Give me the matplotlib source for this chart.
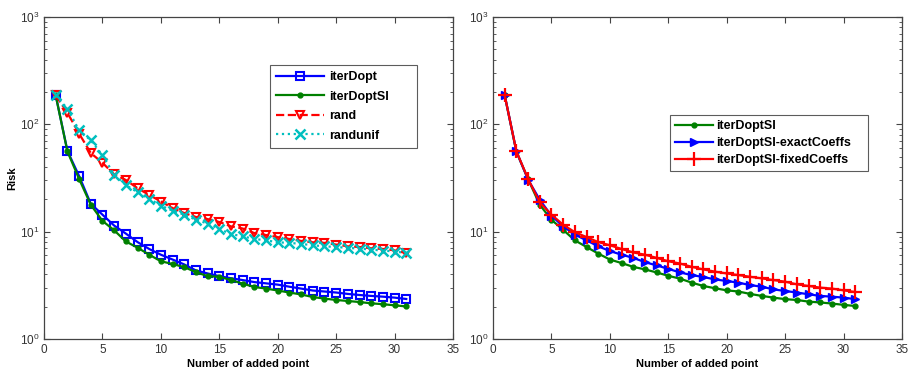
import numpy as np
import matplotlib
matplotlib.use('Agg')
import matplotlib.pyplot as plt
from matplotlib.ticker import LogLocator, FixedLocator

plt.rcParams['font.family'] = ['Liberation Sans', 'DejaVu Sans']
plt.rcParams['mathtext.default'] = 'regular'

x = np.arange(1, 32)

# left panel
iterDopt = [186, 56.6, 33, 18.2, 14.4, 11.4, 9.6, 8.0, 6.9, 6.1, 5.5, 4.95, 4.35, 4.08, 3.85,
            3.68, 3.54, 3.39, 3.3, 3.21, 3.07, 2.95, 2.83, 2.77, 2.71, 2.63, 2.57, 2.52, 2.48, 2.43, 2.36]
iterDoptSI = [186, 56, 31, 17.8, 12.6, 10.3, 8.1, 7.1, 6.1, 5.3, 5.0, 4.67, 4.2, 3.85, 3.8,
              3.54, 3.28, 3.05, 2.95, 2.83, 2.71, 2.6, 2.46, 2.38, 2.31, 2.26, 2.21, 2.15, 2.11, 2.06, 2.01]
rand = [186, 128, 82, 54, 43.8, 34.2, 30.3, 25.4, 22, 19.1, 16.6, 14.9, 13.7, 13.1, 12.3,
        11.2, 10.7, 9.7, 9.3, 8.9, 8.55, 8.2, 7.96, 7.86, 7.58, 7.3, 7.2, 7.0, 6.9, 6.7, 6.3]
randunif = [186, 140, 88, 71, 51.6, 34, 27.2, 23.3, 20.2, 17.5, 15.7, 14.4, 12.9, 11.9, 10.6,
            9.5, 9.05, 8.55, 8.3, 7.96, 7.86, 7.7, 7.47, 7.3, 7.2, 7.06, 6.96, 6.8, 6.67, 6.53, 6.35]

# right panel
iterDoptSI_r = [186, 55.4, 30.8, 17.8, 12.9, 10.4, 8.3, 7.2, 6.25, 5.5, 5.1, 4.7, 4.45, 4.17, 3.88,
                3.65, 3.35, 3.12, 2.97, 2.84, 2.77, 2.63, 2.52, 2.43, 2.35, 2.31, 2.23, 2.19, 2.14, 2.08, 2.03]
exactCoeffs = [186, 56, 30.5, 19.8, 14.1, 11.2, 9.4, 8.3, 7.3, 6.6, 6.1, 5.7, 5.2, 4.85, 4.5,
               4.17, 3.94, 3.78, 3.59, 3.47, 3.35, 3.18, 3.07, 2.9, 2.8, 2.71, 2.61, 2.52, 2.48, 2.43, 2.35]
fixedCoeffs = [186, 56, 31, 18.7, 14.4, 11.6, 9.9, 8.9, 8.0, 7.47, 6.9, 6.4, 6.1, 5.7, 5.3,
               5.05, 4.7, 4.45, 4.24, 4.08, 3.94, 3.8, 3.67, 3.54, 3.42, 3.23, 3.12, 3.01, 2.95, 2.84, 2.74]

BLUE = (0, 0, 1)
GREEN = (0, 0.5, 0)
RED = (1, 0, 0)
CYAN = (0, 0.75, 0.75)
TXT = '#333333'

fig = plt.figure(figsize=(9.08, 3.76), dpi=100)
ax1 = fig.add_axes([0.0485, 0.0984, 0.4504, 0.8564])
ax2 = fig.add_axes([0.543, 0.0984, 0.4504, 0.8564])

ax1.plot(x, iterDopt, '-s', color=BLUE, lw=1.6, ms=5.5, mfc='none', mew=1.5, label='iterDopt')
ax1.plot(x, iterDoptSI, '-o', color=GREEN, lw=1.6, ms=3.5, mfc=GREEN, label='iterDoptSI')
ax1.plot(x, rand, '--v', color=RED, lw=1.6, ms=6, mfc='none', mew=1.5, label='rand')
ax1.plot(x, randunif, ':x', color=CYAN, lw=1.6, ms=7, mew=1.8, label='randunif')

ax2.plot(x, iterDoptSI_r, '-o', color=GREEN, lw=1.6, ms=3.5, mfc=GREEN, label='iterDoptSI')
ax2.plot(x, exactCoeffs, '->', color=BLUE, lw=1.6, ms=5.5, mfc=BLUE, label='iterDoptSI-exactCoeffs')
ax2.plot(x, fixedCoeffs, '-+', color=RED, lw=1.6, ms=10, mew=1.6, label='iterDoptSI-fixedCoeffs')

for ax in (ax1, ax2):
    ax.set_yscale('log')
    ax.set_ylim(1, 1000)
    ax.set_xlim(0, 35)
    ax.xaxis.set_major_locator(FixedLocator(range(0, 36, 5)))
    ax.yaxis.set_major_locator(LogLocator(base=10, numticks=5))
    ax.yaxis.set_minor_locator(LogLocator(base=10, subs=np.arange(2, 10), numticks=10))
    ax.tick_params(which='both', direction='in', top=True, right=True,
                   labelsize=8.5, labelcolor=TXT, color='#444444')
    ax.tick_params(which='major', length=4)
    ax.tick_params(which='minor', length=2.5)
    for s in ax.spines.values():
        s.set_color('#444444')
        s.set_linewidth(0.9)
    ax.set_xlabel('Number of added point', fontsize=8, fontweight='bold', labelpad=2)

ax1.set_ylabel('Risk', fontsize=8, fontweight='bold', labelpad=2)

leg1 = ax1.legend(loc='upper left', bbox_to_anchor=(0.5526, 0.651, 0.359, 0.2), mode='expand',
                  borderaxespad=0, handlelength=3.8, handletextpad=0.4, labelspacing=0.6,
                  borderpad=0.5, fancybox=False, edgecolor='#333333',
                  prop={'weight': 'bold', 'size': 9})
leg2 = ax2.legend(loc='upper left', bbox_to_anchor=(0.433, 0.496, 0.484, 0.2), mode='expand',
                  borderaxespad=0, handlelength=3.0, handletextpad=0.3, labelspacing=0.4,
                  borderpad=0.4, fancybox=False, edgecolor='#333333',
                  prop={'weight': 'bold', 'size': 9})
for leg in (leg1, leg2):
    leg.get_frame().set_linewidth(0.8)

fig.savefig('out.png', dpi=100)
